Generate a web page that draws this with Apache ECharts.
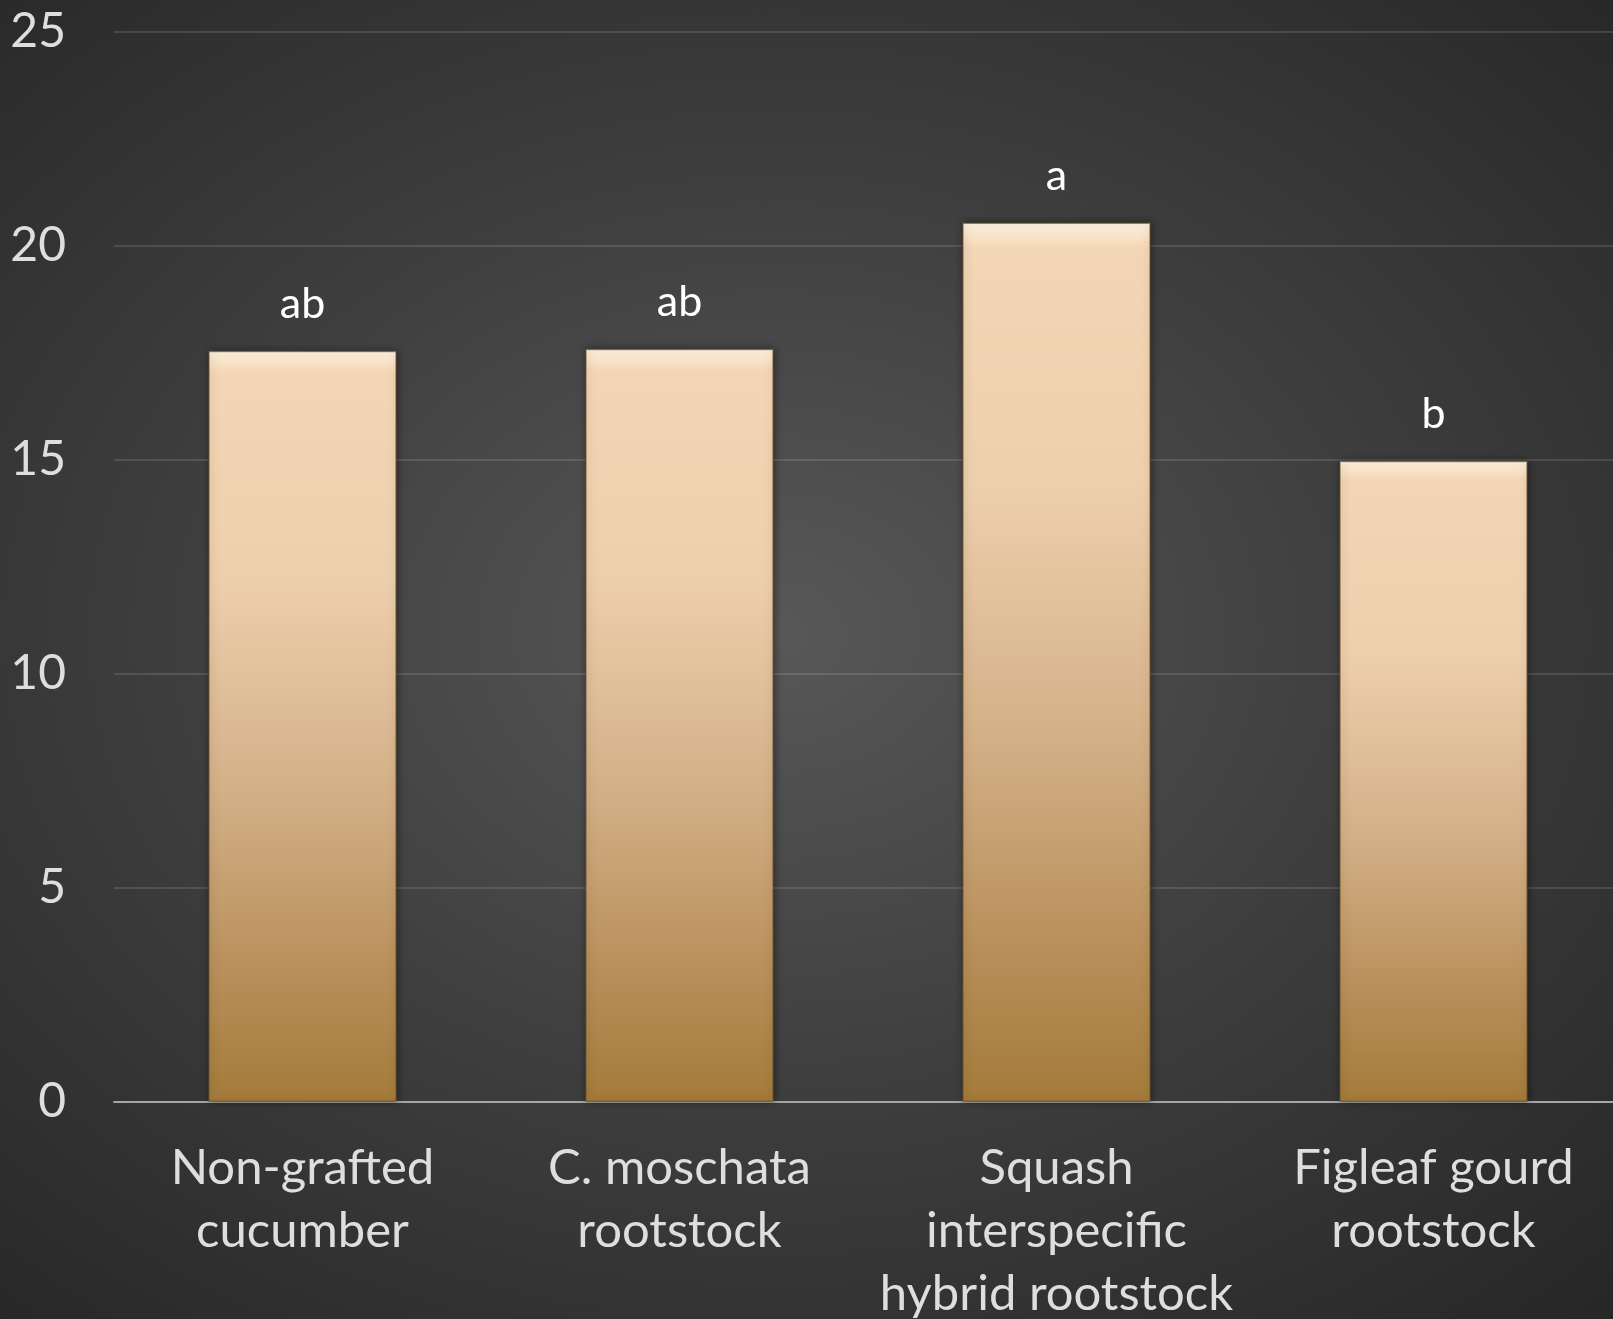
<!DOCTYPE html>
<html lang="en">
<head>
    <meta charset="UTF-8">
    <title>Rootstock bar chart</title>
    <style>
        html, body { margin: 0; padding: 0; }
        body {
            width: 1613px; height: 1319px; overflow: hidden;
            background: radial-gradient(ellipse 75% 70% at 48% 48%, #585858 0%, #3e3e3e 50%, #272727 100%);
        }
    </style>
</head>
<body>
<div id="container" style="width: 1613px;height:1319px;"></div>

<script src="https://cdn.jsdelivr.net/npm/echarts@6/dist/echarts.min.js"></script>
<script type="text/javascript">

// categories (x axis)
var categories = [
    'Non-grafted\ncucumber',
    'C. moschata\nrootstock',
    'Squash\ninterspecific\nhybrid rootstock',
    'Figleaf gourd\nrootstock'
];
// bar heights
var values = [17.55, 17.6, 20.55, 14.98];
// significance letters above the bars
var letters = ['ab', 'ab', 'a', 'b'];

// y axis ticks
var yMin = 0, yMax = 25, yStep = 5;

var fontName = 'Lato, "Open Sans", sans-serif';

var barColor = new echarts.graphic.LinearGradient(0, 0, 0, 1, [
    {offset: 0, color: '#fff6e6'},
    {offset: 0.012, color: '#fbe6cc'},
    {offset: 0.03, color: '#f3d6b6'},
    {offset: 0.3, color: '#eecfad'},
    {offset: 0.6, color: '#d2ae85'},
    {offset: 0.85, color: '#b58c55'},
    {offset: 1, color: '#a47b3b'}
]);

var dom = document.getElementById("container");
var myChart = echarts.init(dom, null, {renderer: 'canvas'});

var option = {
    backgroundColor: 'transparent',
    animation: false,
    grid: {
        left: 114,
        top: 32,
        width: 1508,
        height: 1070,
        // the plot runs past the right edge, as in the picture
        outerBoundsMode: 'none'
    },
    xAxis: {
        type: 'category',
        data: categories,
        axisTick: {show: false},
        axisLine: {lineStyle: {color: '#a6a6a6', width: 2}},
        axisLabel: {
            color: '#dedede',
            fontFamily: fontName,
            fontSize: 49,
            lineHeight: 63,
            margin: 35,
            interval: 0
        }
    },
    yAxis: {
        type: 'value',
        min: yMin,
        max: yMax,
        interval: yStep,
        axisLine: {show: false},
        axisTick: {show: false},
        splitLine: {lineStyle: {color: 'rgba(255,255,255,0.12)', width: 2}},
        axisLabel: {
            color: '#dedede',
            fontFamily: fontName,
            fontSize: 48,
            margin: 48
        }
    },
    series: [{
        type: 'bar',
        data: values,
        barWidth: '50%',
        itemStyle: {
            color: barColor,
            borderColor: 'rgba(110,80,40,0.6)',
            borderWidth: 1.5,
            shadowColor: 'rgba(0,0,0,0.45)',
            shadowBlur: 8,
            shadowOffsetX: 1
        },
        label: {
            show: true,
            position: 'top',
            distance: 25,
            color: '#ffffff',
            fontFamily: fontName,
            fontSize: 43,
            formatter: function (p) { return letters[p.dataIndex]; }
        }
    }]
};

myChart.setOption(option);
</script>
</body>
</html>
